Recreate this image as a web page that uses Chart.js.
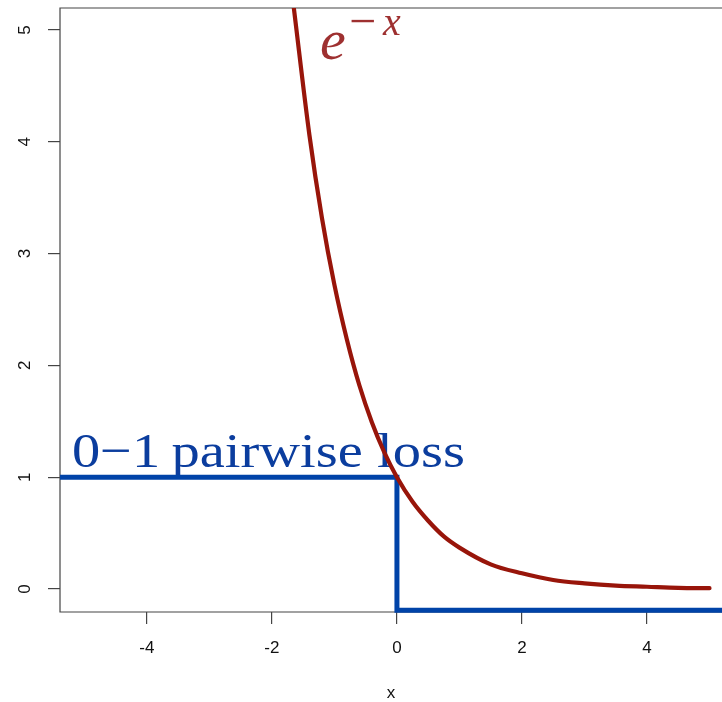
<!DOCTYPE html>
<html>
<head>
<meta charset="utf-8">
<script src="https://cdn.jsdelivr.net/npm/chart.js@4.4.0/dist/chart.umd.min.js"></script>
<style>
  html, body { margin: 0; padding: 0; background: #fff; overflow: hidden; }
  #wrap { width: 722px; height: 702px; }
</style>
</head>
<body>
<div id="wrap"><canvas id="myChart"></canvas></div>
<script>
// values
var expX = [-1.65, -1.4, -1.2, -1.0, -0.8, -0.6, -0.4, -0.2, 0, 0.25, 0.5, 0.75, 1.0, 1.5, 2.0, 2.5, 3.0, 3.5, 4.0, 4.5, 5.0];
var expY = [5.2, 4.06, 3.32, 2.72, 2.23, 1.82, 1.49, 1.22, 1.0, 0.78, 0.61, 0.47, 0.37, 0.22, 0.14, 0.08, 0.05, 0.03, 0.02, 0.01, 0.007];

var lossX = [-5.39, 0, 0, 5.2];
var lossY = [1, 1, -0.19, -0.19];

var xTicks = [-4, -2, 0, 2, 4];
var yTicks = [0, 1, 2, 3, 4, 5];

function toPoints(xs, ys) {
  return xs.map(function (x, i) { return {x: x, y: ys[i]}; });
}

// box + the two latex-style labels
var decorations = {
  id: 'decorations',
  beforeDatasetsDraw: function (chart) {
    var c = chart.ctx, a = chart.chartArea;
    var xs = chart.scales.x, ys = chart.scales.y;
    c.save();
    c.strokeStyle = '#444';
    c.lineWidth = 1.2;
    c.beginPath();
    c.moveTo(a.right + 5, a.top);
    c.lineTo(a.left, a.top);
    c.lineTo(a.left, a.bottom);
    c.lineTo(a.right + 5, a.bottom);
    c.stroke();

    // 0-1 pairwise loss, stretched to the width it has in the picture
    var txt = '0\u22121\u2009pairwise loss';
    c.fillStyle = '#0b3d9e';
    c.textBaseline = 'alphabetic';
    c.font = '49px "Liberation Serif", "DejaVu Serif", serif';
    var w = c.measureText(txt).width;
    var lx = xs.getPixelForValue(-5.2), ly = ys.getPixelForValue(1.09);
    c.save();
    c.translate(lx, ly);
    c.scale(393 / w, 1);
    c.fillText(txt, 0, 0);
    c.restore();

    // e^{-x}
    c.fillStyle = '#9e3030';
    c.font = 'italic 58px "Liberation Serif", "DejaVu Serif", serif';
    var ex = xs.getPixelForValue(-1.23), ey = ys.getPixelForValue(4.74);
    c.fillText('e', ex, ey);
    c.font = '48px "Liberation Serif", "DejaVu Serif", serif';
    c.fillText('\u2212', ex + 29, ey - 22);
    c.font = 'italic 40px "Liberation Serif", "DejaVu Serif", serif';
    c.fillText('x', ex + 63, ey - 24);
    c.restore();
  }
};

var ctx = document.getElementById('myChart').getContext('2d');
var chart = new Chart(ctx, {
  type: 'scatter',
  data: {
    datasets: [{
      label: 'e^-x',
      data: toPoints(expX, expY),
      showLine: true,
      borderColor: '#98150a',
      borderWidth: 4.2,
      borderCapStyle: 'round',
      pointRadius: 0,
      cubicInterpolationMode: 'monotone',
      order: 1
    }, {
      label: '0-1 pairwise loss',
      data: toPoints(lossX, lossY),
      showLine: true,
      borderColor: '#0043a8',
      borderWidth: 5,
      pointRadius: 0,
      tension: 0,
      clip: false,
      order: 2
    }]
  },
  options: {
    responsive: true,
    maintainAspectRatio: false,
    animation: false,
    layout: { padding: { top: 8, right: 0, left: 0, bottom: 0 } },
    plugins: { legend: { display: false }, tooltip: { enabled: false } },
    scales: {
      x: {
        type: 'linear',
        min: -5.39,
        max: 5.2,
        afterFit: function (s) { s.height = 90; s.paddingLeft = 0; s.paddingRight = 0; },
        afterBuildTicks: function (s) { s.ticks = xTicks.map(function (v) { return {value: v}; }); },
        grid: { drawOnChartArea: false, drawTicks: true, tickLength: 12, color: '#444', lineWidth: 1.2 },
        border: { display: false },
        ticks: { color: '#111', padding: 14, font: { family: '"Liberation Sans", Arial, sans-serif', size: 17 } },
        title: {
          display: true,
          text: 'x',
          color: '#111',
          padding: { top: 0, bottom: 0 },
          font: { family: '"Liberation Sans", Arial, sans-serif', size: 17, lineHeight: 1 }
        }
      },
      y: {
        type: 'linear',
        min: -0.206,
        max: 5.197,
        afterFit: function (s) { s.width = 60; s.paddingTop = 0; s.paddingBottom = 0; },
        afterBuildTicks: function (s) { s.ticks = yTicks.map(function (v) { return {value: v}; }); },
        grid: { drawOnChartArea: false, drawTicks: true, tickLength: 12, color: '#444', lineWidth: 1.2 },
        border: { display: false },
        ticks: {
          color: '#111',
          padding: 18,
          minRotation: 90,
          maxRotation: 90,
          crossAlign: 'center',
          font: { family: '"Liberation Sans", Arial, sans-serif', size: 17 }
        }
      }
    }
  },
  plugins: [decorations]
});
</script>
</body>
</html>
